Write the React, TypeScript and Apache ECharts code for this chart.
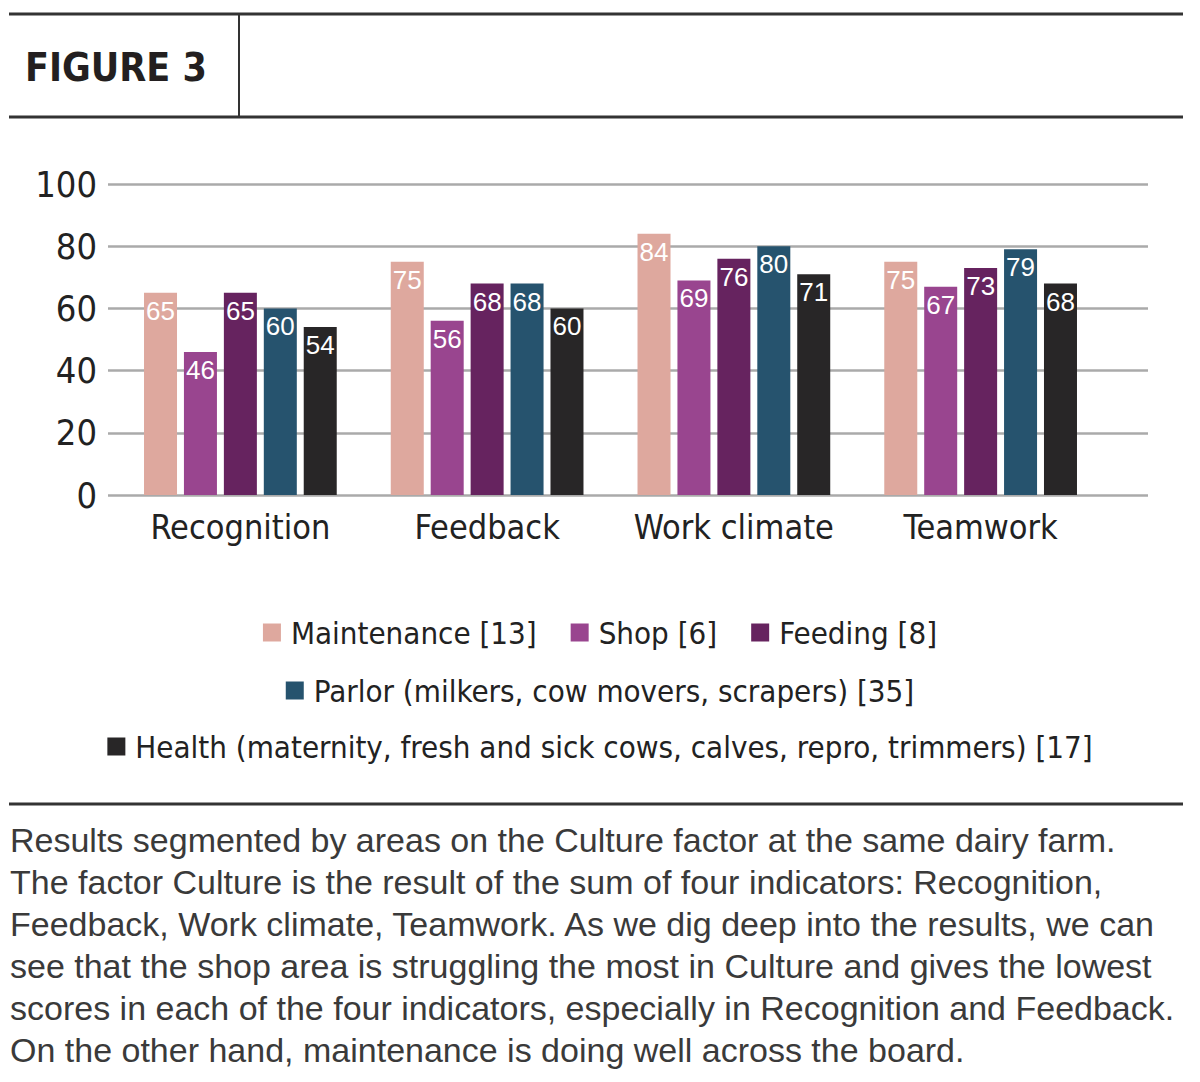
import React, { useEffect, useRef } from "react";
import * as echarts from "echarts";

const categories = ["Recognition", "Feedback", "Work climate", "Teamwork"];
const seriesNames = [
  "Maintenance [13]",
  "Shop [6]",
  "Feeding [8]",
  "Parlor (milkers, cow movers, scrapers) [35]",
  "Health (maternity, fresh and sick cows, calves, repro, trimmers) [17]",
];
const maintenance = [65, 75, 84, 75];
const shop = [46, 56, 69, 67];
const feeding = [65, 68, 76, 73];
const parlor = [60, 68, 80, 79];
const health = [54, 60, 71, 68];
const colors = ["#DEA89E", "#99458F", "#66235F", "#26536E", "#282627"];
const title = "FIGURE 3";
const captionLines = [
  "Results segmented by areas on the Culture factor at the same dairy farm.",
  "The factor Culture is the result of the sum of four indicators: Recognition,",
  "Feedback, Work climate, Teamwork. As we dig deep into the results, we can",
  "see that the shop area is struggling the most in Culture and gives the lowest",
  "scores in each of the four indicators, especially in Recognition and Feedback.",
  "On the other hand, maintenance is doing well across the board.",
];

const COND = '"Liberation Sans Narrow", "DejaVu Sans Condensed", sans-serif';

export default function App() {
  const ref = useRef<HTMLDivElement>(null);
  useEffect(() => {
    document.body.style.margin = "0";
    const chart = echarts.init(ref.current!, null, { renderer: "svg" });
    const values = [maintenance, shop, feeding, parlor, health];
    const series = values.map((d, i) => ({
      type: "bar",
      name: seriesNames[i],
      data: d,
      xAxisIndex: 1,
      yAxisIndex: 1,
      barWidth: 33,
      barGap: "21%",
      itemStyle: { color: colors[i] },
      label: {
        show: true,
        position: "insideTop",
        distance: 5,
        color: "#ffffff",
        fontSize: 26,
        fontFamily: '"Liberation Sans", Arial, sans-serif',
      },
    }));
    const legendBase = {
      orient: "horizontal",
      left: "center",
      itemWidth: 18,
      itemHeight: 18,
      itemGap: 34,
      icon: "rect",
      textStyle: { fontSize: 31, fontFamily: COND, color: "#222", padding: [0, 0, 0, 5] },
    };
    chart.setOption({
      animation: false,
      backgroundColor: "#ffffff",
      grid: [
        { left: 108, right: 52, top: 184, bottom: 1082 - 495 },
        { left: 117, right: 96, top: 184, bottom: 1082 - 495 },
      ],
      xAxis: [
        { type: "category", gridIndex: 0, data: categories, show: false },
        {
          type: "category",
          gridIndex: 1,
          data: categories,
          axisLine: { show: false },
          axisTick: { show: false },
          axisLabel: { interval: 0, fontSize: 34, fontFamily: COND, color: "#222", margin: 15 },
        },
      ],
      yAxis: [
        {
          type: "value",
          gridIndex: 0,
          min: 0,
          max: 100,
          interval: 20,
          axisLine: { show: false },
          axisTick: { show: false },
          axisLabel: { fontSize: 36, fontFamily: COND, color: "#222", margin: 11 },
          splitLine: { lineStyle: { color: "#aaaaaa", width: 2.5 } },
        },
        {
          type: "value",
          gridIndex: 1,
          min: 0,
          max: 100,
          interval: 20,
          show: false,
          splitLine: { show: false },
        },
      ],
      legend: [
        { ...legendBase, top: 612, data: seriesNames.slice(0, 3) },
        { ...legendBase, top: 670, data: seriesNames.slice(3, 4) },
        { ...legendBase, top: 726, data: seriesNames.slice(4, 5) },
      ],
      series,
      graphic: [
        { type: "line", shape: { x1: 9, y1: 14, x2: 1183, y2: 14 }, style: { stroke: "#333", lineWidth: 3 } },
        { type: "line", shape: { x1: 9, y1: 117, x2: 1183, y2: 117 }, style: { stroke: "#333", lineWidth: 3 } },
        { type: "line", shape: { x1: 239, y1: 14, x2: 239, y2: 117 }, style: { stroke: "#333", lineWidth: 2 } },
        {
          type: "text",
          x: 25,
          y: 67,
          style: {
            text: title,
            fontSize: 39,
            fontWeight: "bold",
            fontFamily: '"DejaVu Sans Condensed", "Roboto", sans-serif',
            fill: "#231f20",
            verticalAlign: "middle",
          },
        },
        { type: "line", shape: { x1: 9, y1: 804, x2: 1183, y2: 804 }, style: { stroke: "#333", lineWidth: 3 } },
        {
          type: "text",
          x: 10,
          y: 819,
          style: {
            text: captionLines.join("\n"),
            fontSize: 34,
            lineHeight: 42,
            fontFamily: '"Liberation Sans", Arial, sans-serif',
            fill: "#3a3a3a",
          },
        },
      ],
    });
    return () => chart.dispose();
  }, []);
  return <div ref={ref} style={{ width: 1200, height: 1082 }} />;
}
